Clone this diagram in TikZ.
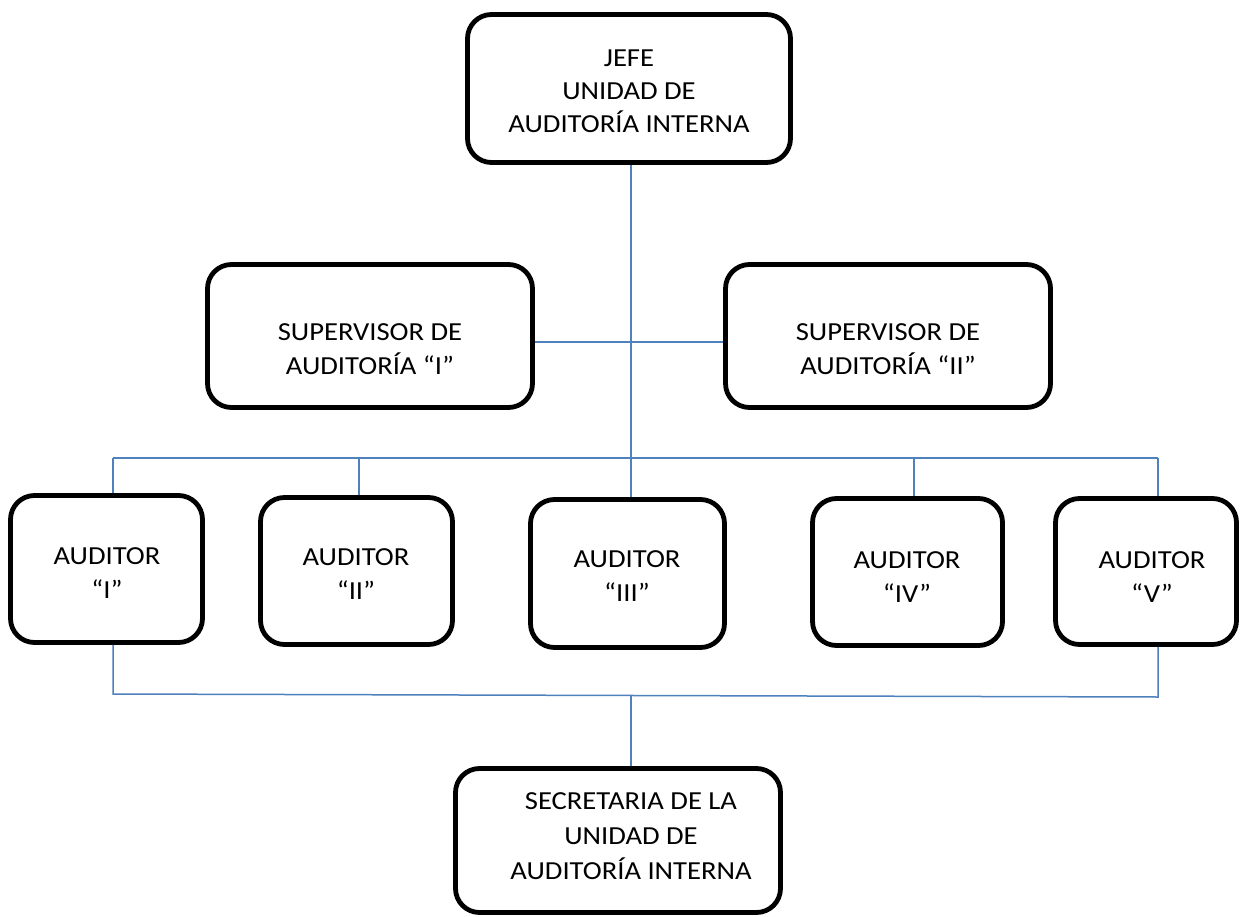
\documentclass[tikz,border=0pt]{standalone}
\usepackage{fontspec}
\setmainfont{Carlito}[FakeStretch=1.1]
\definecolor{linkblue}{RGB}{79,129,189}
\begin{document}
\begin{tikzpicture}[x=1pt,y=-1pt,
  box/.style={draw=black,line width=4.8pt,rounded corners=24pt,fill=white,inner sep=0pt},
  label/.style={inner sep=0pt,align=center,font=\fontsize{26}{34}\selectfont},
  link/.style={draw=linkblue,line width=1.5pt}]
\useasboundingbox[fill=white] (0,0) rectangle (1241,917);

% connector routing points
\coordinate (spine) at (631,458);
\coordinate (supbar) at (631,342);
\coordinate (busA) at (113,458);
\coordinate (busB) at (359,458);
\coordinate (busC) at (631,458);
\coordinate (busD) at (914,458);
\coordinate (busE) at (1158,458);
\coordinate (lowA) at (113,694);
\coordinate (lowC) at (631,696);
\coordinate (lowE) at (1158,697);

% boxes
\node[box,minimum width=323pt,minimum height=148pt] (jefe) at (629,88.5) {};
\node[box,minimum width=325pt,minimum height=143pt] (sup1) at (370,336) {};
\node[box,minimum width=325pt,minimum height=143pt] (sup2) at (888,336) {};
\node[box,minimum width=192pt,minimum height=147pt] (aud1) at (106.5,569) {};
\node[box,minimum width=192pt,minimum height=147pt] (aud2) at (356.5,571) {};
\node[box,minimum width=194pt,minimum height=148pt] (aud3) at (627.5,573.5) {};
\node[box,minimum width=190pt,minimum height=147pt] (aud4) at (907.5,572) {};
\node[box,minimum width=181pt,minimum height=146pt] (aud5) at (1146,571.5) {};
\node[box,minimum width=325pt,minimum height=144pt] (secr) at (618,840.5) {};

% connectors
\draw[link] (jefe.south -| spine) -- (supbar) -- (spine);
\draw[link] (sup1.east |- supbar) -- (sup2.west |- supbar);
\draw[link] (busA) -- (busE);
\draw[link] (busA) -- (aud1.north -| busA);
\draw[link] (busB) -- (aud2.north -| busB);
\draw[link] (busC) -- (aud3.north -| busC);
\draw[link] (busD) -- (aud4.north -| busD);
\draw[link] (busE) -- (aud5.north -| busE);
\draw[link] (aud1.south -| lowA) -- (lowA) -- (lowE) -- (aud5.south -| lowE);
\draw[link] (lowC) -- (secr.north -| lowC);

% texts
\node[label,font=\fontsize{26}{33}\selectfont] (jefe-t) at (629,91.5) {JEFE\\UNIDAD DE\\AUDITORÍA INTERNA};
\node[label] (sup1-t) at (370,349.5) {SUPERVISOR DE\\AUDITORÍA “I”};
\node[label] (sup2-t) at (888,349.5) {SUPERVISOR DE\\AUDITORÍA “II”};
\node[label] (aud1-t) at (107,573) {AUDITOR\\“I”};
\node[label] (aud2-t) at (356,574.5) {AUDITOR\\“II”};
\node[label] (aud3-t) at (627,576) {AUDITOR\\“III”};
\node[label] (aud4-t) at (907,577.5) {AUDITOR\\“IV”};
\node[label] (aud5-t) at (1152,577) {AUDITOR\\“V”};
\node[label,font=\fontsize{26}{35}\selectfont] (secr-t) at (631,836.5) {SECRETARIA DE LA\\UNIDAD DE\\AUDITORÍA INTERNA};
\end{tikzpicture}
\end{document}
